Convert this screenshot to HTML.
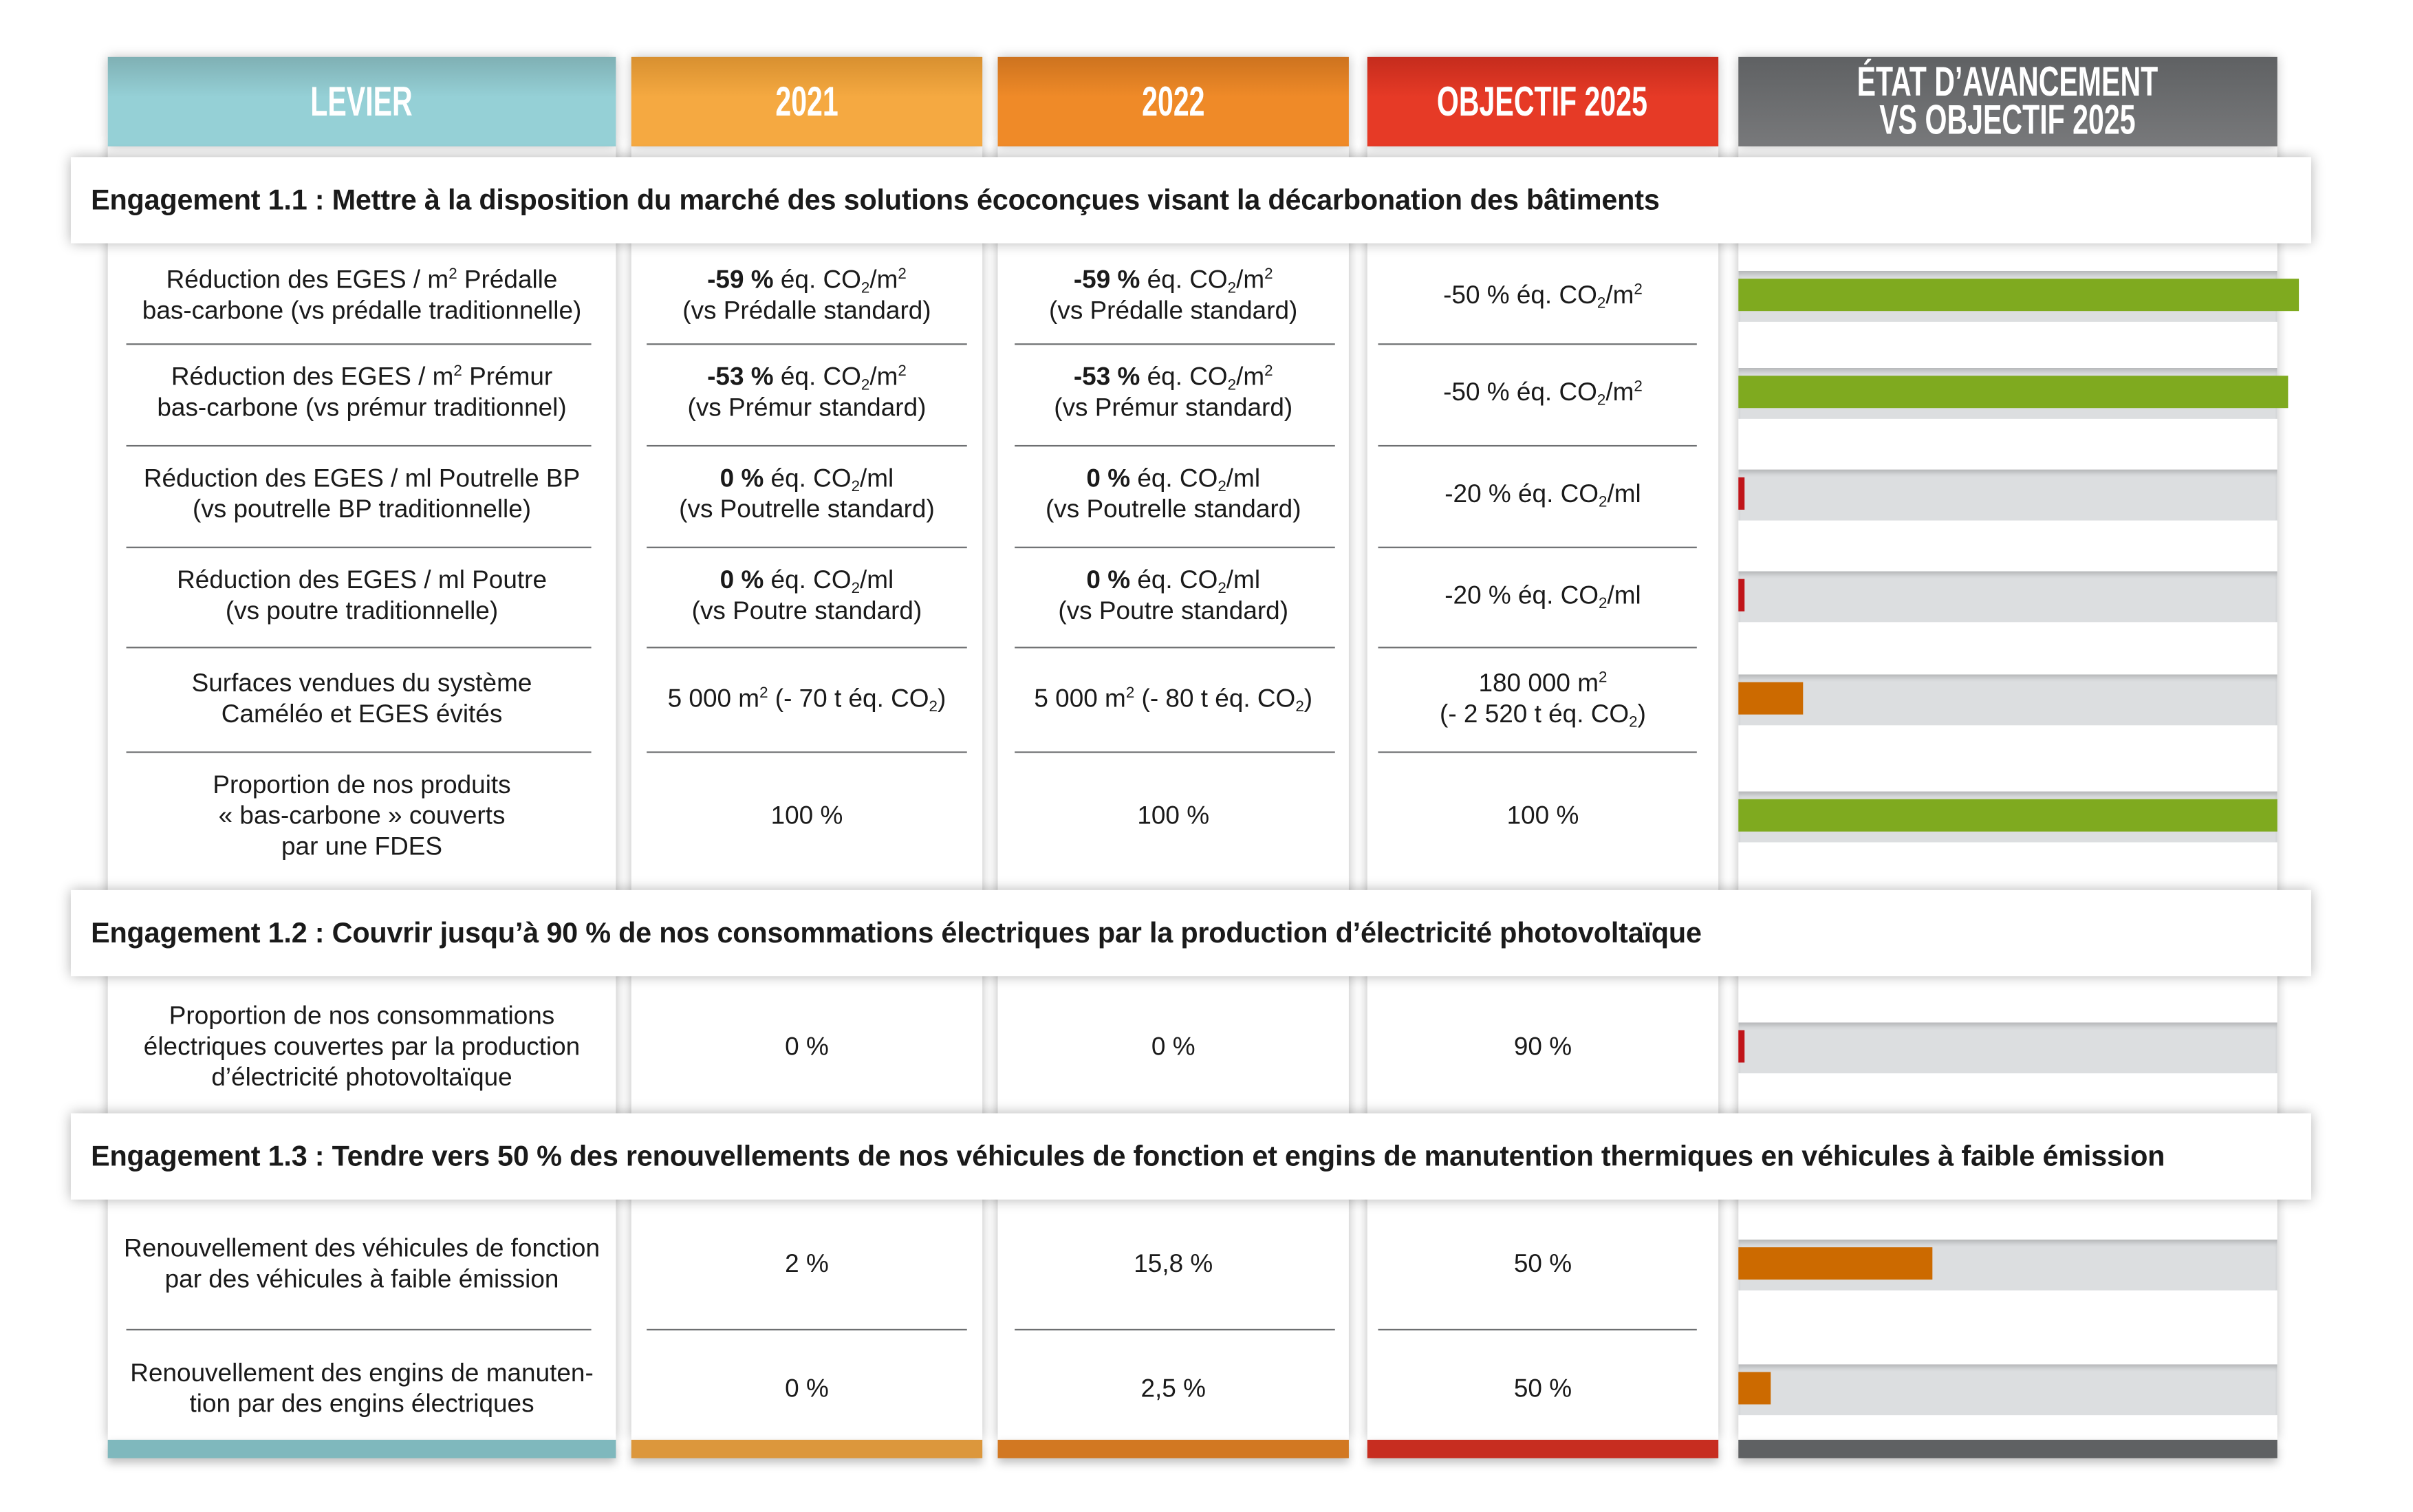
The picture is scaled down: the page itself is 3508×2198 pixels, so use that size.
<!DOCTYPE html>
<html><head><meta charset="utf-8">
<style>
html,body{margin:0;padding:0;background:#fff;}
body{width:3508px;height:2198px;overflow:hidden;position:relative;}
#stage{position:absolute;left:0;top:0;width:1567px;height:982px;transform:scale(2.2385,2.2385);transform-origin:0 0;font-family:"Liberation Sans",sans-serif;color:#1a1a1a;}
.col{position:absolute;top:95px;height:840px;background:#fff;box-shadow:0 0 7px rgba(0,0,0,0.28);}
.hdr{position:absolute;top:37px;height:58px;color:#fff;font-family:"Liberation Sans",sans-serif;font-weight:bold;font-size:27px;display:flex;align-items:center;justify-content:center;text-align:center;line-height:25px;box-shadow:0 0 7px rgba(0,0,0,0.25);}
.hdr span{display:inline-block;transform:scaleX(0.68);white-space:nowrap;}
.foot{position:absolute;top:935px;height:12px;box-shadow:0 3px 6px rgba(0,0,0,0.25);}
.band{position:absolute;left:46px;width:1455px;height:56px;background:#fff;box-shadow:0 0 8px rgba(0,0,0,0.3);font-weight:bold;font-size:18.5px;display:flex;align-items:center;padding-left:13px;box-sizing:border-box;letter-spacing:-0.1px;white-space:nowrap;}
.cell{position:absolute;display:block;text-align:center;font-size:16.5px;line-height:20px;transform:translateY(-50%);white-space:nowrap;}
.sep{position:absolute;height:1px;background:#6d6f71;}
sub{font-size:10px;vertical-align:-3px;line-height:0;}
sup{font-size:10px;vertical-align:6px;line-height:0;}
</style></head><body>
<div id="stage">
  <div class="col" style="left:70px;width:330px"></div>
  <div class="col" style="left:410px;width:228px"></div>
  <div class="col" style="left:648px;width:228px"></div>
  <div class="col" style="left:888px;width:228px"></div>
  <div class="col" style="left:1129px;width:350px"></div>

  <div class="hdr" style="left:70px;width:330px;background:linear-gradient(#7fb0b4,#95d0d6 45%)"><span>LEVIER</span></div>
  <div class="hdr" style="left:410px;width:228px;background:linear-gradient(#d89030,#f5a941 45%)"><span>2021</span></div>
  <div class="hdr" style="left:648px;width:228px;background:linear-gradient(#cd731f,#ef8a28 45%)"><span>2022</span></div>
  <div class="hdr" style="left:888px;width:228px;background:linear-gradient(#c52c1d,#e63a26 45%)"><span>OBJECTIF 2025</span></div>
  <div class="hdr" style="left:1129px;width:350px;background:linear-gradient(#5f6163,#78797b)"><span>ÉTAT D’AVANCEMENT<br>VS OBJECTIF 2025</span></div>

  <div class="foot" style="left:70px;width:330px;background:#7fb8bd"></div>
  <div class="foot" style="left:410px;width:228px;background:#dc973c"></div>
  <div class="foot" style="left:648px;width:228px;background:#d27822"></div>
  <div class="foot" style="left:888px;width:228px;background:#c72d20"></div>
  <div class="foot" style="left:1129px;width:350px;background:#5f6163"></div>

  <div id="bars"></div>
  <div id="cells"></div>

  <div class="band" style="top:102px">Engagement 1.1 : Mettre à la disposition du marché des solutions écoconçues visant la décarbonation des bâtiments</div>
  <div class="band" style="top:578px">Engagement 1.2 : Couvrir jusqu’à 90 % de nos consommations électriques par la production d’électricité photovoltaïque</div>
  <div class="band" style="top:723px">Engagement 1.3 : Tendre vers 50 % des renouvellements de nos véhicules de fonction et engins de manutention thermiques en véhicules à faible émission</div>
</div>
<script>
var rowLabels=["Réduction des EGES / m<sup>2</sup> Prédalle<br>bas-carbone (vs prédalle traditionnelle)","Réduction des EGES / m<sup>2</sup> Prémur<br>bas-carbone (vs prémur traditionnel)","Réduction des EGES / ml Poutrelle BP<br>(vs poutrelle BP traditionnelle)","Réduction des EGES / ml Poutre<br>(vs poutre traditionnelle)","Surfaces vendues du système<br>Caméléo et EGES évités","Proportion de nos produits<br>« bas-carbone » couverts<br>par une FDES","Proportion de nos consommations<br>électriques couvertes par la production<br>d’électricité photovoltaïque","Renouvellement des véhicules de fonction<br>par des véhicules à faible émission","Renouvellement des engins de manuten-<br>tion par des engins électriques"];
var values2021=["<b>-59 %</b> éq. CO<sub>2</sub>/m<sup>2</sup><br>(vs Prédalle standard)","<b>-53 %</b> éq. CO<sub>2</sub>/m<sup>2</sup><br>(vs Prémur standard)","<b>0 %</b> éq. CO<sub>2</sub>/ml<br>(vs Poutrelle standard)","<b>0 %</b> éq. CO<sub>2</sub>/ml<br>(vs Poutre standard)","5 000 m<sup>2</sup> (- 70 t éq. CO<sub>2</sub>)","100 %","0 %","2 %","0 %"];
var values2022=["<b>-59 %</b> éq. CO<sub>2</sub>/m<sup>2</sup><br>(vs Prédalle standard)","<b>-53 %</b> éq. CO<sub>2</sub>/m<sup>2</sup><br>(vs Prémur standard)","<b>0 %</b> éq. CO<sub>2</sub>/ml<br>(vs Poutrelle standard)","<b>0 %</b> éq. CO<sub>2</sub>/ml<br>(vs Poutre standard)","5 000 m<sup>2</sup> (- 80 t éq. CO<sub>2</sub>)","100 %","0 %","15,8 %","2,5 %"];
var valuesObjectif=["-50 % éq. CO<sub>2</sub>/m<sup>2</sup>","-50 % éq. CO<sub>2</sub>/m<sup>2</sup>","-20 % éq. CO<sub>2</sub>/ml","-20 % éq. CO<sub>2</sub>/ml","180 000 m<sup>2</sup><br>(- 2 520 t éq. CO<sub>2</sub>)","100 %","90 %","50 %","50 %"];
var progress=[104,102,0,0,12,100,0,36,6];
var progressColor=["green","green","red","red","orange","green","red","orange","orange"];

var rowCenters=[192,255,321,387,454,530,680,821,902];
var sepY=[223,289,355,420,488,863];
var colors={green:"#7faa1f",orange:"#cc6a00",red:"#c0151a"};
var cols=[{x:70,w:330,sx:82,sw:302,d:rowLabels,n:"levier"},{x:410,w:228,sx:420,sw:208,d:values2021,n:"2021"},{x:648,w:228,sx:659,sw:208,d:values2022,n:"2022"},{x:888,w:228,sx:895,sw:207,d:valuesObjectif,n:"objectif"}];
var cellsEl=document.getElementById('cells');
cols.forEach(function(c){
  c.d.forEach(function(t,i){
    var el=document.createElement('div');
    el.className='cell';
    
    
    el.style.left=c.x+'px';el.style.width=c.w+'px';el.style.top=rowCenters[i]+'px';
    el.innerHTML=t;cellsEl.appendChild(el);
  });
  sepY.forEach(function(y,j){
    var s=document.createElement('div');
    s.className='sep';
    
    
    s.style.left=c.sx+'px';s.style.width=c.sw+'px';s.style.top=y+'px';
    cellsEl.appendChild(s);
  });
});
var barsEl=document.getElementById('bars');
var trackX=1129,trackW=350;
function xScale(v){return v/100*trackW;}
progress.forEach(function(v,i){
  var tr=document.createElement('div');
  
  
  tr.style.cssText='position:absolute;left:'+trackX+'px;width:'+trackW+'px;top:'+(rowCenters[i]-16)+'px;height:33px;background:#dcdee0;box-shadow:inset 0 3px 3px -1px rgba(0,0,0,0.18);';
  barsEl.appendChild(tr);
  var b=document.createElement('div');
  
  
  var w=Math.max(4,xScale(v));
  b.style.cssText='position:absolute;left:'+trackX+'px;width:'+w+'px;top:'+(rowCenters[i]-11)+'px;height:21px;background:'+colors[progressColor[i]]+';';
  barsEl.appendChild(b);
});
</script>
</body></html>
